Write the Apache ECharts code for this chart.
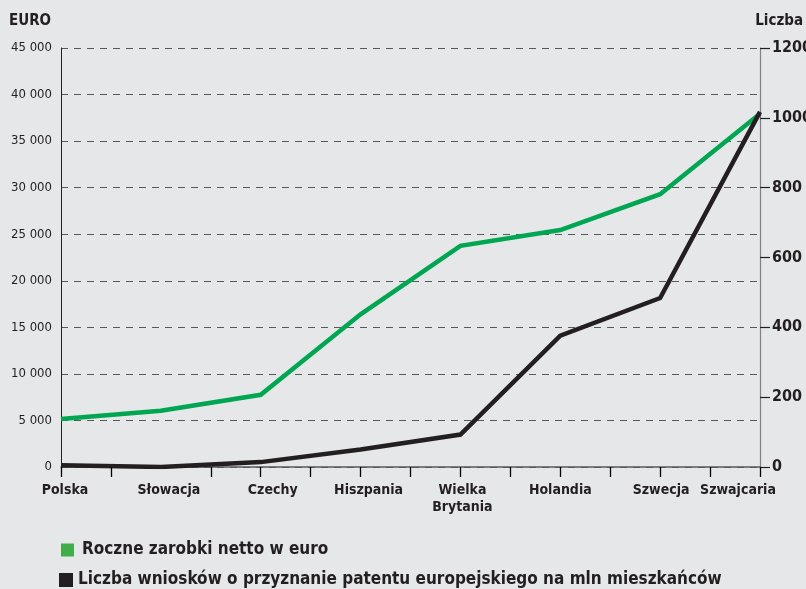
<!DOCTYPE html>
<html>
<head>
<meta charset="utf-8">
<script src="https://cdn.jsdelivr.net/npm/echarts@6/dist/echarts.min.js"></script>
<style>
html,body{margin:0;padding:0;background:#e6e7e8;}
#c{width:806px;height:589px;}
</style>
</head>
<body>
<div id="c"></div>
<script>
const categories = ['Polska', 'Słowacja', 'Czechy', 'Hiszpania', 'Wielka\nBrytania', 'Holandia', 'Szwecja', 'Szwajcaria'];
const earningsEuro = [5150, 6050, 7750, 16400, 23750, 25450, 29300, 37950];
const patentsPerMillion = [5, 0, 14, 50, 93, 376, 484, 1017];
const seriesNames = ['Roczne zarobki netto w euro', 'Liczba wniosków o przyznanie patentu europejskiego na mln mieszkańców'];
const leftTitle = 'EURO';
const rightTitle = 'Liczba';
// half-category tick marks drawn along the bottom axis (Słowacja has none)
const tickSteps = [0, 1, 3, 4, 5, 6, 7, 8, 9, 10, 11, 12, 13, 14];

const FONT = "'Liberation Sans Narrow', 'DejaVu Sans Condensed', 'Roboto Condensed', sans-serif";
const INK = '#231f20';
// label horizontal nudges (style only)
const labelShift = [4, 8, 12, 8, 2, 0, 1, -22];
const rich = {};
labelShift.forEach((d, i) => {
  rich['s' + i] = {
    fontFamily: FONT, fontSize: 14, fontWeight: 'bold', color: INK, lineHeight: 17,
    padding: d >= 0 ? [0, 0, 0, 2 * d] : [0, -2 * d, 0, 0]
  };
});

const chart = echarts.init(document.getElementById('c'), null, {renderer: 'canvas'});
chart.setOption({
  backgroundColor: '#e6e7e8',
  animation: false,
  textStyle: {fontFamily: FONT},
  title: [
    {text: leftTitle, left: 4, top: 9, textStyle: {fontFamily: FONT, fontSize: 15, fontWeight: 'bold', color: INK}},
    {text: rightTitle, right: -2, top: 9, textStyle: {fontFamily: FONT, fontSize: 15, fontWeight: 'bold', color: INK}}
  ],
  grid: {left: 61, right: 46, top: 48, bottom: 122, containLabel: false, outerBoundsMode: 'none'},
  legend: [
    {
      left: 56, top: 535, icon: 'rect', itemWidth: 13, itemHeight: 13, selectedMode: false,
      textStyle: {fontFamily: FONT, fontSize: 17, fontWeight: 'bold', color: INK, lineHeight: 20, padding: [0, 0, 0, 3]},
      data: [seriesNames[0]]
    },
    {
      left: 54, top: 565, icon: 'rect', itemWidth: 14, itemHeight: 14, selectedMode: false,
      textStyle: {fontFamily: FONT, fontSize: 17, fontWeight: 'bold', color: INK, lineHeight: 20},
      data: [seriesNames[1]]
    }
  ],
  xAxis: [
    {
      type: 'category', data: categories, boundaryGap: false, position: 'bottom',
      axisLine: {show: true, lineStyle: {color: '#58595b', width: 1.5}},
      axisTick: {show: false},
      axisLabel: {
        interval: 0, margin: 15,
        formatter: function (v, i) {
          return v.split('\n').map(s => '{s' + i + '|' + s + '}').join('\n');
        },
        rich: rich
      },
      z: 1
    },
    {
      type: 'value', min: 0, max: 14, interval: 1, position: 'bottom',
      axisLine: {show: false},
      axisLabel: {show: false},
      splitLine: {show: false},
      axisTick: {show: true, length: 10, customValues: tickSteps, lineStyle: {color: '#000', width: 1.3}},
      z: 5
    }
  ],
  yAxis: [
    {
      type: 'value', min: 0, max: 45000, interval: 5000, position: 'left',
      axisLine: {show: true, lineStyle: {color: INK, width: 1}},
      axisTick: {show: false},
      axisLabel: {
        margin: 9, fontFamily: FONT, fontSize: 13, color: INK,
        formatter: v => String(v).replace(/\B(?=(\d{3})+(?!\d))/g, ' ')
      },
      splitLine: {show: true, lineStyle: {color: '#58595b', width: 1, type: [7, 6]}}
    },
    {
      type: 'value', min: 0, max: 1200, interval: 200, position: 'right',
      axisLine: {show: true, lineStyle: {color: '#808285', width: 1.2}},
      axisTick: {show: true, inside: false, length: 10, lineStyle: {color: INK, width: 1.2}},
      axisLabel: {margin: 12, fontFamily: FONT, fontSize: 16, fontWeight: 'bold', color: INK, formatter: v => String(v)},
      splitLine: {show: false}
    }
  ],
  series: [
    {
      name: seriesNames[0], type: 'line', xAxisIndex: 0, yAxisIndex: 0,
      data: earningsEuro, showSymbol: false, symbol: 'none',
      itemStyle: {color: '#3fae49'},
      lineStyle: {color: '#00a651', width: 4.5, join: 'miter'},
      z: 3
    },
    {
      name: seriesNames[1], type: 'line', xAxisIndex: 0, yAxisIndex: 1,
      data: patentsPerMillion, showSymbol: false, symbol: 'none',
      itemStyle: {color: INK},
      lineStyle: {color: INK, width: 4.5, join: 'miter'},
      z: 4
    }
  ]
});
</script>
</body>
</html>
